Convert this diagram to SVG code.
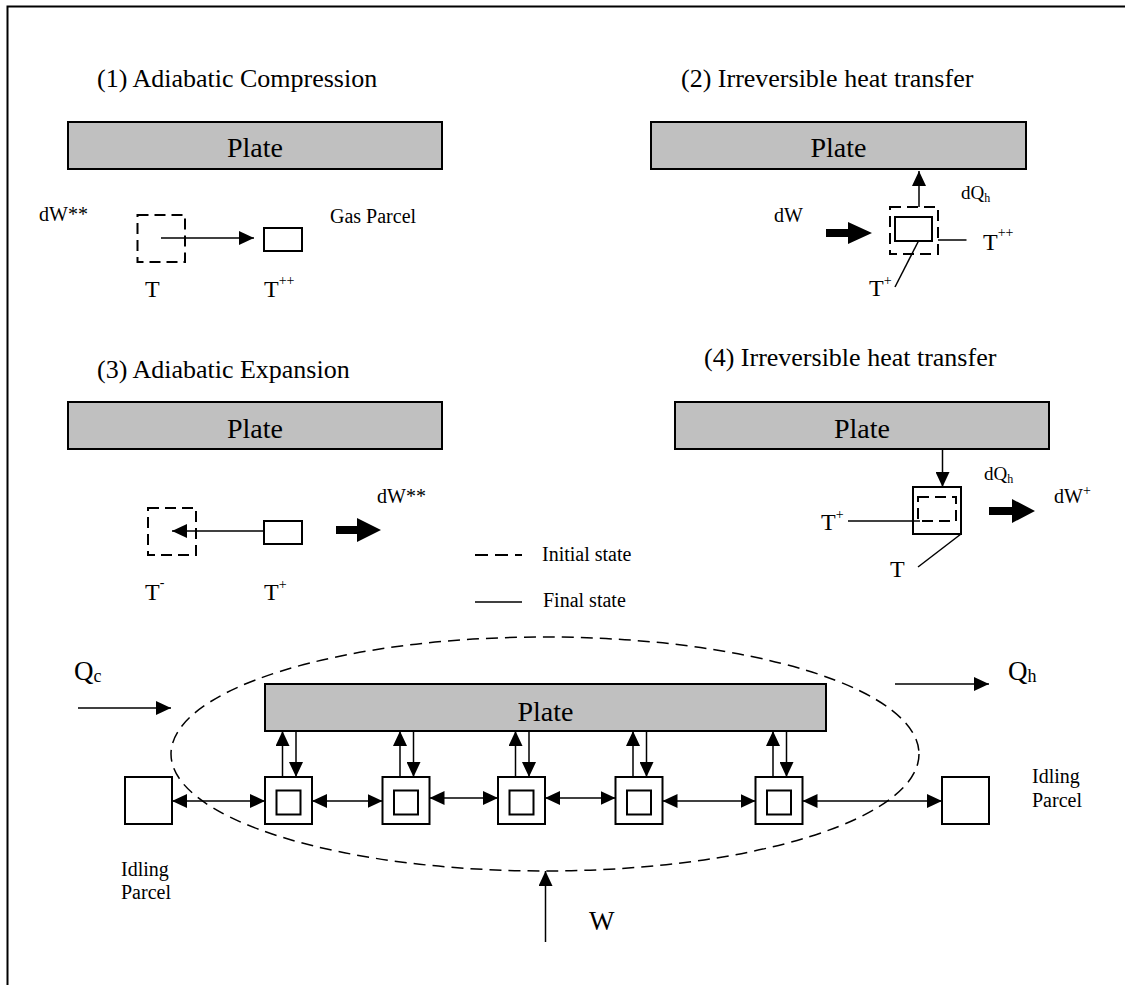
<svg xmlns="http://www.w3.org/2000/svg" width="1125" height="985" viewBox="0 0 1125 985">
  <style>
    text { font-family: "Liberation Serif", "Times New Roman", serif; fill: #000; }
    .title { font-size: 26px; }
    .plate { fill: #c0c0c0; stroke: #000; stroke-width: 2; }
    .plabel { font-size: 28px; text-anchor: middle; }
    .lbl { font-size: 20px; }
    .tlbl { font-size: 24px; }
    .sup { font-size: 14px; }
    .box { fill: #fff; stroke: #000; stroke-width: 2; }
    .dbox { fill: none; stroke: #000; stroke-width: 2; stroke-dasharray: 11 6; }
    .ln { fill: none; stroke: #000; stroke-width: 1.5; }
    .arr { fill: none; stroke: #000; stroke-width: 1.5; marker-end: url(#head); }
    .arr2 { fill: none; stroke: #000; stroke-width: 1.5; marker-start: url(#head); marker-end: url(#head); }
    .thick { fill: #000; stroke: none; }
    .loop { fill: none; stroke: #000; stroke-width: 1.5; stroke-dasharray: 12 7; }
    .frame { fill: none; stroke: #000; stroke-width: 2; }
  </style>
  <defs>
    <marker id="head" markerUnits="userSpaceOnUse" markerWidth="16" markerHeight="14" refX="15" refY="7" orient="auto-start-reverse">
      <path d="M0,0 L15,7 L0,14 z" fill="#000"/>
    </marker>
  </defs>

  <!-- page frame (left and top edges) -->
  <path class="frame" d="M7.5,985 V6.5 H1125"/>

  <!-- (1) adiabatic compression -->
  <g id="panel1">
    <text class="title" x="97" y="87">(1) Adiabatic Compression</text>
    <g id="plate1">
      <rect class="plate" x="68" y="122" width="374" height="47"/>
      <text class="plabel" x="255" y="157">Plate</text>
    </g>
    <text class="lbl" x="39" y="221">dW**</text>
    <rect id="p1-initial" class="dbox" x="137.5" y="215" width="47.5" height="47"/>
    <rect id="p1-final" class="box" x="264" y="228" width="38" height="23"/>
    <text class="lbl" x="330" y="223">Gas Parcel</text>
    <text class="tlbl" x="145" y="297">T</text>
    <text class="tlbl" x="264" y="297">T<tspan class="sup" dy="-12">++</tspan></text>
  </g>

  <!-- (2) irreversible heat transfer, parcel to plate -->
  <g id="panel2">
    <text class="title" x="681" y="87">(2) Irreversible heat transfer</text>
    <g id="plate2">
      <rect class="plate" x="651" y="122" width="375" height="47"/>
      <text class="plabel" x="838.5" y="157">Plate</text>
    </g>
    <text class="lbl" x="774" y="222">dW</text>
    <polygon class="thick" points="826,229 848,229 848,222 872,233 848,244 848,237 826,237"/>
    <rect id="p2-initial" class="dbox" x="890" y="207" width="48" height="47"/>
    <rect id="p2-final" class="box" x="895" y="217" width="37" height="24"/>
    <text class="lbl" x="961" y="199" style="font-size:19px">dQ<tspan style="font-size:12px" dy="3">h</tspan></text>
    <text class="tlbl" x="983" y="250">T<tspan class="sup" dy="-13">++</tspan></text>
    <text class="tlbl" x="869" y="296">T<tspan class="sup" dy="-11">+</tspan></text>
  </g>

  <!-- (3) adiabatic expansion -->
  <g id="panel3">
    <text class="title" x="97" y="378">(3) Adiabatic Expansion</text>
    <g id="plate3">
      <rect class="plate" x="68" y="402" width="374" height="47"/>
      <text class="plabel" x="255" y="438">Plate</text>
    </g>
    <rect id="p3-initial" class="dbox" x="148" y="508" width="48" height="47"/>
    <rect id="p3-final" class="box" x="264" y="521" width="38" height="23"/>
    <text class="lbl" x="377" y="503">dW**</text>
    <polygon class="thick" points="336,526 357,526 357,518 381,530 357,542 357,534 336,534"/>
    <text class="tlbl" x="145" y="600">T<tspan class="sup" dy="-13">-</tspan></text>
    <text class="tlbl" x="264" y="600">T<tspan class="sup" dy="-11">+</tspan></text>
  </g>

  <!-- legend -->
  <g id="legend">
    <line class="ln" x1="475" y1="555" x2="522" y2="555" stroke-dasharray="13 7" style="stroke-width:2"/>
    <text class="lbl" x="542" y="561">Initial state</text>
    <line class="ln" x1="475" y1="602" x2="522" y2="602"/>
    <text class="lbl" x="543" y="607">Final state</text>
  </g>

  <!-- (4) irreversible heat transfer, plate to parcel -->
  <g id="panel4">
    <text class="title" x="704" y="366">(4) Irreversible heat transfer</text>
    <g id="plate4">
      <rect class="plate" x="675" y="402" width="374" height="47"/>
      <text class="plabel" x="862" y="438">Plate</text>
    </g>
    <rect id="p4-final" class="box" x="913" y="487" width="48" height="47"/>
    <rect id="p4-initial" class="dbox" x="918" y="497" width="38" height="24"/>
    <text class="lbl" x="984" y="480" style="font-size:19px">dQ<tspan style="font-size:12px" dy="3">h</tspan></text>
    <polygon class="thick" points="989,507 1012,507 1012,499 1035,511 1012,523 1012,515 989,515"/>
    <text class="lbl" x="1054" y="503">dW<tspan class="sup" dy="-8">+</tspan></text>
    <text class="tlbl" x="821" y="530">T<tspan class="sup" dy="-11">+</tspan></text>
    <text class="tlbl" x="890" y="577">T</text>
  </g>

  <!-- cycle: plate, working parcels and idling parcels -->
  <g id="cycle">
    <ellipse class="loop" cx="545" cy="754" rx="374" ry="117"/>
    <g id="plate5">
      <rect class="plate" x="265" y="684" width="561" height="47"/>
      <text class="plabel" x="545.5" y="721">Plate</text>
    </g>
    <g id="parcel1"><rect class="box" x="265" y="777" width="47" height="47"/><rect class="box" x="276.5" y="790.5" width="24" height="24"/></g>
    <g id="parcel2"><rect class="box" x="382.5" y="777" width="47" height="47"/><rect class="box" x="394" y="790.5" width="24" height="24"/></g>
    <g id="parcel3"><rect class="box" x="498" y="777" width="47" height="47"/><rect class="box" x="509.5" y="790.5" width="24" height="24"/></g>
    <g id="parcel4"><rect class="box" x="615.5" y="777" width="47" height="47"/><rect class="box" x="627" y="790.5" width="24" height="24"/></g>
    <g id="parcel5"><rect class="box" x="755.5" y="777" width="47" height="47"/><rect class="box" x="767" y="790.5" width="24" height="24"/></g>
    <g id="idle-left">
      <rect class="box" x="125" y="777" width="47" height="47"/>
      <text class="lbl" x="121" y="876">Idling</text>
      <text class="lbl" x="121" y="899">Parcel</text>
    </g>
    <g id="idle-right">
      <rect class="box" x="942" y="777" width="47" height="47"/>
      <text class="lbl" x="1032" y="783">Idling</text>
      <text class="lbl" x="1032" y="807">Parcel</text>
    </g>
    <text class="title" x="74" y="680" style="font-size:27px">Q<tspan style="font-size:18px" dy="2">c</tspan></text>
    <text class="title" x="1008" y="680" style="font-size:27px">Q<tspan style="font-size:18px" dy="2">h</tspan></text>
    <text class="title" x="589" y="930" style="font-size:27px">W</text>
  </g>

  <!-- connectors -->
  <g id="connectors">
    <line class="arr" x1="161" y1="238" x2="254" y2="238"/>
    <line class="arr" x1="919" y1="207" x2="919" y2="171"/>
    <line class="ln" x1="938" y1="240" x2="966.5" y2="240"/>
    <line class="ln" x1="918.5" y1="241" x2="895" y2="287"/>
    <line class="arr" x1="264" y1="531" x2="172" y2="531"/>
    <line class="arr" x1="942.5" y1="449" x2="942.5" y2="487"/>
    <line class="ln" x1="848" y1="521" x2="920" y2="521"/>
    <line class="ln" x1="961" y1="534" x2="918" y2="567"/>

    <line class="arr" x1="78" y1="708" x2="171" y2="708"/>
    <line class="arr" x1="895" y1="684" x2="989" y2="684"/>
    <line class="arr" x1="545.5" y1="942" x2="545.5" y2="871"/>

    <line class="arr2" x1="172" y1="801" x2="265" y2="801"/>
    <line class="arr2" x1="312" y1="801" x2="382.5" y2="801"/>
    <line class="arr2" x1="429.5" y1="798" x2="498" y2="798"/>
    <line class="arr2" x1="545" y1="798" x2="615.5" y2="798"/>
    <line class="arr2" x1="662.5" y1="801" x2="755.5" y2="801"/>
    <line class="arr2" x1="802.5" y1="801" x2="942" y2="801"/>

    <line class="arr" x1="282.5" y1="777" x2="282.5" y2="731"/>
    <line class="arr" x1="296" y1="731" x2="296" y2="777"/>
    <line class="arr" x1="400" y1="777" x2="400" y2="731"/>
    <line class="arr" x1="413.5" y1="731" x2="413.5" y2="777"/>
    <line class="arr" x1="515.5" y1="777" x2="515.5" y2="731"/>
    <line class="arr" x1="529" y1="731" x2="529" y2="777"/>
    <line class="arr" x1="633" y1="777" x2="633" y2="731"/>
    <line class="arr" x1="646.5" y1="731" x2="646.5" y2="777"/>
    <line class="arr" x1="773" y1="777" x2="773" y2="731"/>
    <line class="arr" x1="786.5" y1="731" x2="786.5" y2="777"/>
  </g>
</svg>
